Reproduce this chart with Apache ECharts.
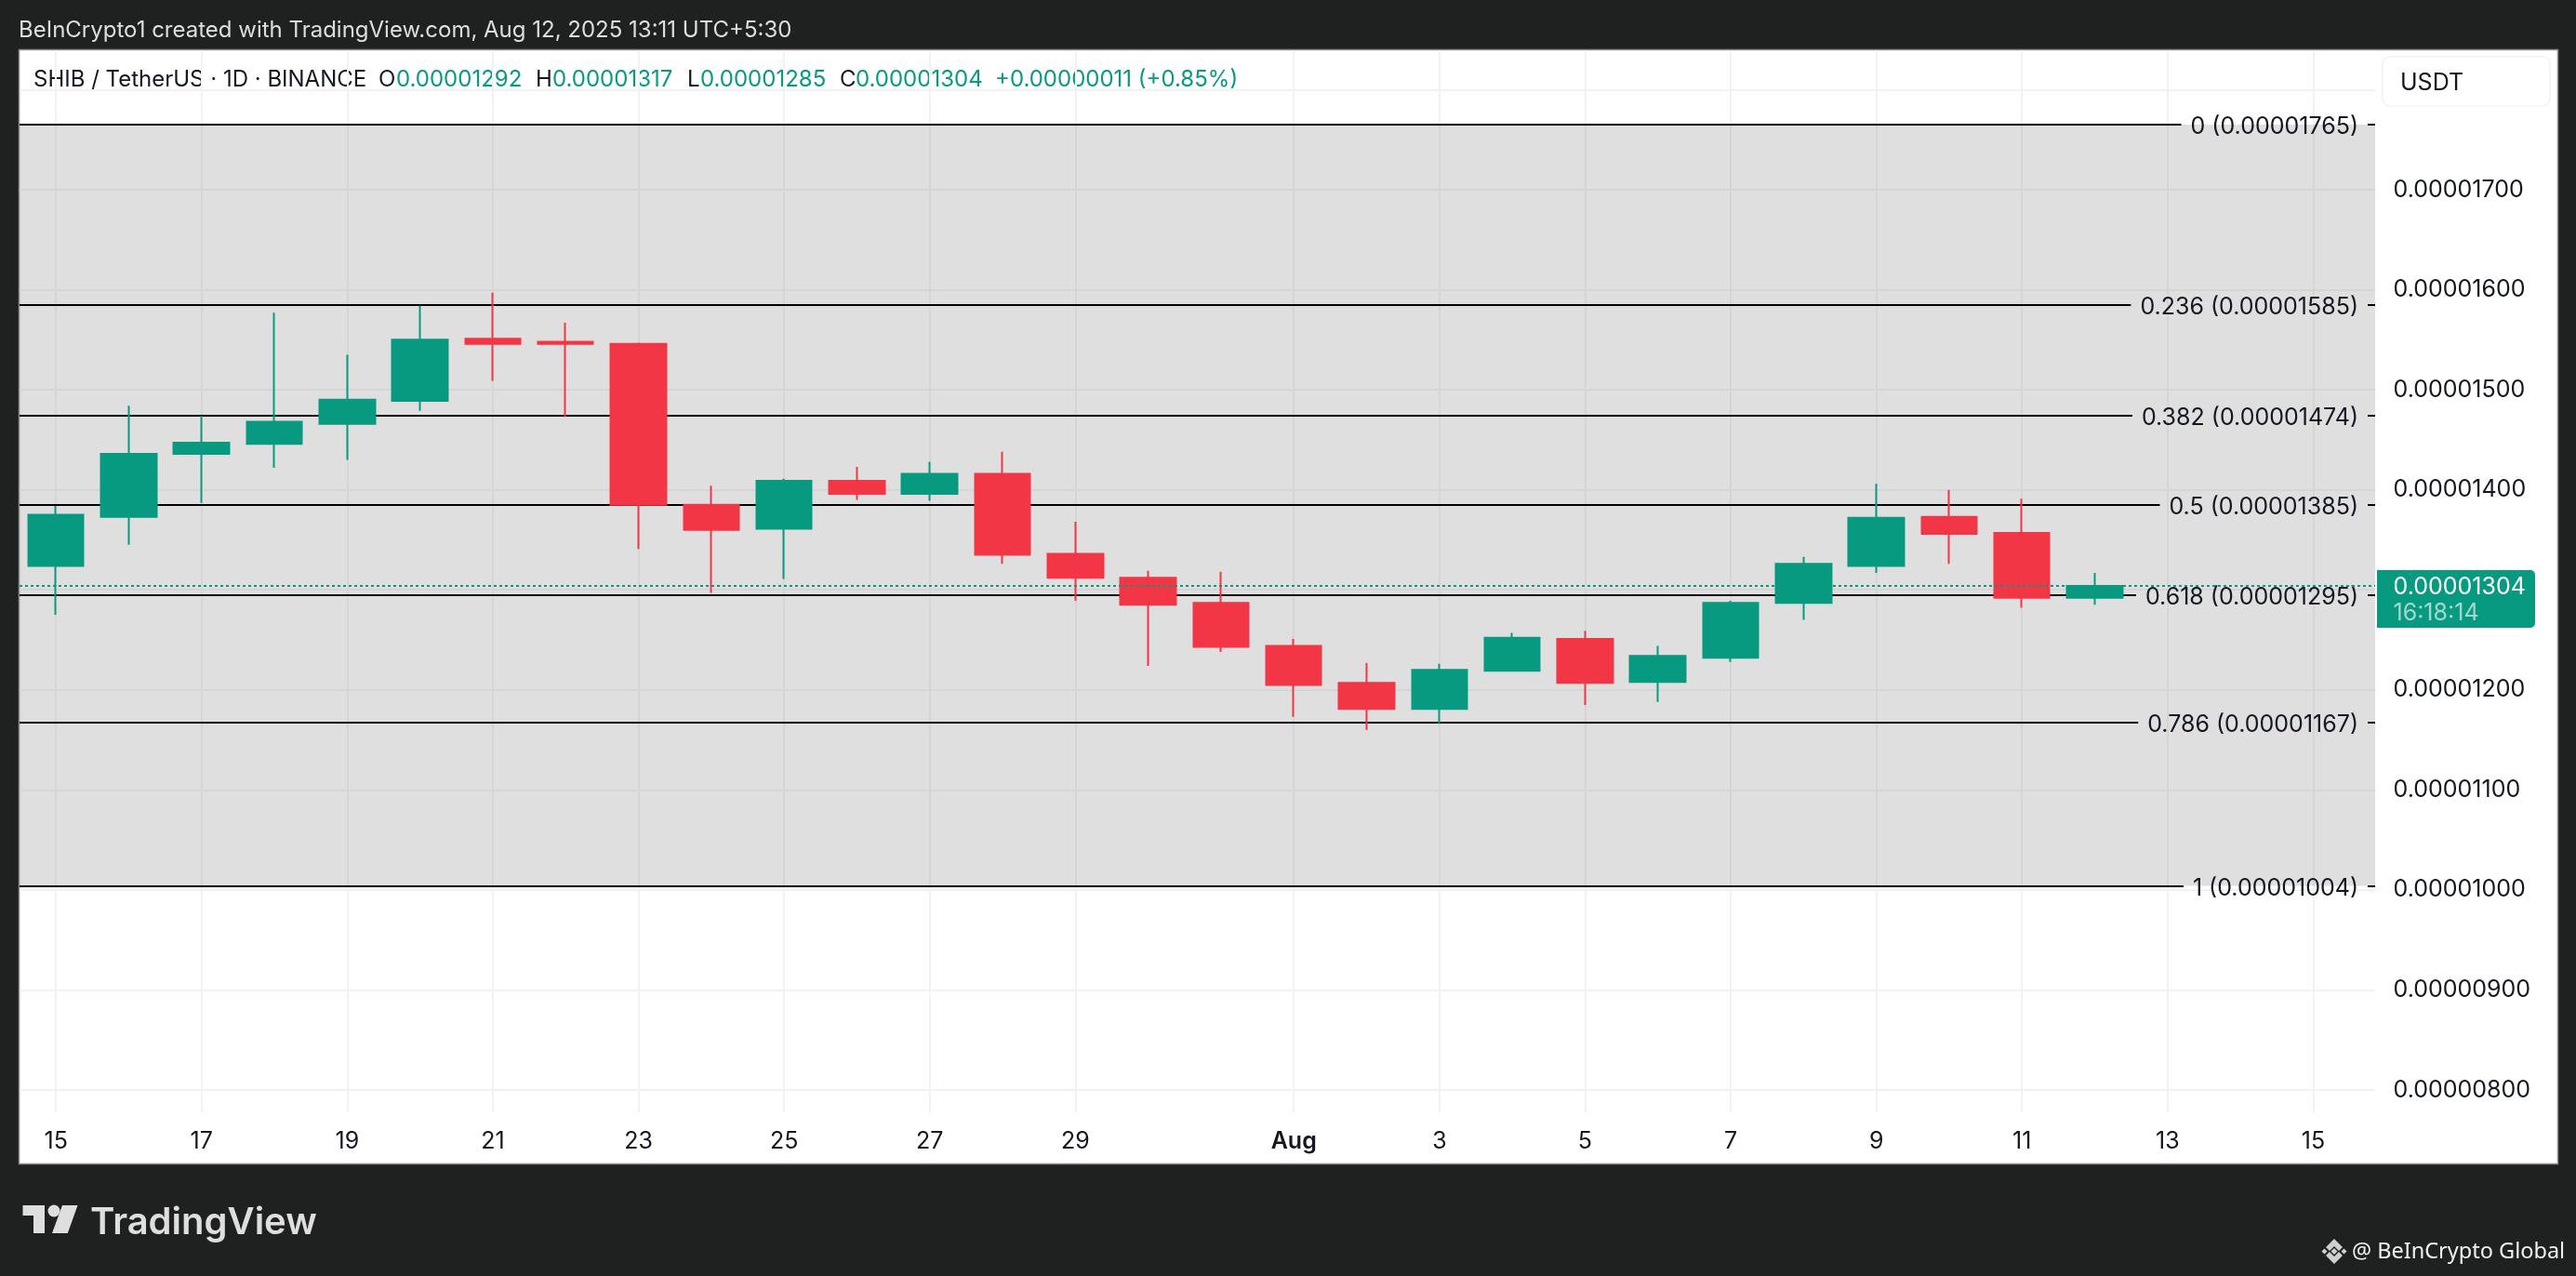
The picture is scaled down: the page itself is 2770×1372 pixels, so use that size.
<!DOCTYPE html>
<html>
<head>
<meta charset="utf-8">
<title>SHIB / TetherUS</title>
<style>
  html, body { margin: 0; padding: 0; background: #1f2120; }
  #chart { width: 2770px; height: 1372px; }
</style>
<script src="https://cdn.jsdelivr.net/npm/echarts@6/dist/echarts.min.js"></script>
</head>
<body>
<div id="chart"></div>
<script>
// prices are in units of 0.00000001, one candle per day from Jul 15 to Aug 12
var opens  = [1324, 1373, 1436, 1446, 1466, 1489, 1551, 1548, 1546, 1385, 1361, 1409, 1396, 1416, 1336, 1312, 1287, 1244, 1207, 1181, 1219, 1251, 1208, 1232, 1287, 1324, 1373, 1357, 1292];
var closes = [1375, 1436, 1447, 1468, 1490, 1550, 1546, 1546, 1385, 1360, 1409, 1396, 1416, 1335, 1312, 1285, 1243, 1205, 1181, 1220, 1252, 1207, 1234, 1287, 1326, 1372, 1356, 1292, 1304];
var lows   = [1275, 1345, 1387, 1422, 1430, 1479, 1509, 1473, 1341, 1297, 1311, 1390, 1389, 1326, 1289, 1224, 1238, 1173, 1160, 1166, 1219, 1185, 1188, 1228, 1270, 1317, 1326, 1282, 1285];
var highs  = [1384, 1484, 1474, 1577, 1535, 1584, 1597, 1567, 1547, 1404, 1411, 1423, 1428, 1438, 1368, 1319, 1318, 1251, 1227, 1226, 1257, 1259, 1244, 1289, 1333, 1406, 1400, 1391, 1317];

var dayTicks  = [0, 2, 4, 6, 8, 10, 12, 14, 17, 19, 21, 23, 25, 27, 29, 31];
var dayLabels = ['15', '17', '19', '21', '23', '25', '27', '29', 'Aug', '3', '5', '7', '9', '11', '13', '15'];

var priceGrid   = [800, 900, 1000, 1100, 1200, 1300, 1400, 1500, 1600, 1700, 1800];
var priceLabels = [800, 900, 1000, 1100, 1200, 1300, 1400, 1500, 1600, 1700];

var fibRatios = ['0', '0.236', '0.382', '0.5', '0.618', '0.786', '1'];
var fibPrices = [1765, 1585, 1474, 1385, 1295, 1167, 1004];

var lastPrice = 1304;
var countdown = '16:18:14';

var UP = '#089981';
var DOWN = '#f23645';
var INK = '#131722';
var FONT = 'Inter';
var LABEL_FONT = '25px ' + FONT;
var PLOT_RIGHT = 2554;

function priceText(v) {
    return (v / 1e8).toFixed(8);
}

var measure = document.createElement('canvas').getContext('2d');
measure.font = LABEL_FONT;

function renderFibBand(params, api) {
    var a = api.coord([-0.5, api.value(0)]);
    var b = api.coord([31.85, api.value(1)]);
    return {
        type: 'rect',
        shape: { x: a[0], y: a[1], width: b[0] - a[0], height: b[1] - a[1] },
        style: { fill: 'rgba(128,128,128,0.25)' }
    };
}

function renderFibLevel(params, api) {
    var p = api.coord([-0.5, api.value(1)]);
    var y = Math.round(p[1]);
    var label = fibRatios[api.value(0)] + ' (' + priceText(api.value(1)) + ')';
    var textRight = 2536;
    var lineEnd = textRight - measure.measureText(label).width - 10;
    var stroke = { stroke: '#000', lineWidth: 2 };
    return {
        type: 'group',
        children: [
            { type: 'line', shape: { x1: p[0], y1: y, x2: lineEnd, y2: y }, style: stroke },
            { type: 'line', shape: { x1: textRight + 10, y1: y, x2: PLOT_RIGHT, y2: y }, style: stroke },
            {
                type: 'text',
                style: {
                    x: textRight, y: y + 2, text: label, fill: INK, font: LABEL_FONT,
                    align: 'right', verticalAlign: 'middle'
                }
            }
        ]
    };
}

function renderLastPrice(params, api) {
    var p = api.coord([-0.5, api.value(0)]);
    var y = Math.round(p[1]);
    return {
        type: 'group',
        children: [
            {
                type: 'line',
                shape: { x1: p[0], y1: y, x2: PLOT_RIGHT, y2: y },
                style: { stroke: UP, lineWidth: 2, lineDash: [3, 3] }
            },
            {
                type: 'rect',
                shape: { x: 2556, y: y - 17, width: 170, height: 62, r: [0, 5, 5, 0] },
                style: { fill: UP }
            },
            {
                type: 'text',
                style: {
                    x: 2573.5, y: y + 1, text: priceText(api.value(0)), fill: '#fff',
                    font: LABEL_FONT, verticalAlign: 'middle'
                }
            },
            {
                type: 'text',
                style: {
                    x: 2573.5, y: y + 29, text: countdown, fill: 'rgba(255,255,255,0.62)',
                    font: LABEL_FONT, verticalAlign: 'middle'
                }
            }
        ]
    };
}

function makeLegendText() {
    var pieces = [
        [36, 'SHIB / TetherUS · 1D · BINANCE', INK],
        [407, 'O', INK], [426, priceText(opens[28] ), UP],
        [576, 'H', INK], [594, priceText(highs[28]), UP],
        [739, 'L', INK], [753, priceText(lows[28]), UP],
        [903, 'C', INK], [920, priceText(closes[28]), UP],
        [1070, '+0.00000011 (+0.85%)', UP]
    ];
    return pieces.map(function (item) {
        return {
            type: 'text', x: item[0], y: 86,
            style: { text: item[1], fill: item[2], font: '24px ' + FONT, verticalAlign: 'middle' }
        };
    });
}

function makeFrame() {
    var grey = '#dedede';
    return [
        { type: 'rect', z: -1, shape: { x: 20.5, y: 53.5, width: 2730, height: 1198 }, style: { fill: '#fff', stroke: '#8a8a8a', lineWidth: 1.5 } },
        { type: 'text', x: 20, y: 33, style: { text: 'BeInCrypto1 created with TradingView.com, Aug 12, 2025 13:11 UTC+5:30', fill: grey, font: '24px ' + FONT, verticalAlign: 'middle' } },
        // USDT button
        { type: 'rect', shape: { x: 2562, y: 61, width: 180, height: 53, r: 8 }, style: { fill: '#fff', stroke: '#f2f2f2', lineWidth: 1.5 } },
        { type: 'text', x: 2581, y: 89, style: { text: 'USDT', fill: INK, font: LABEL_FONT, verticalAlign: 'middle' } },
        // TradingView logo
        { type: 'polygon', shape: { points: [[24.5, 1296], [48, 1296], [48, 1326], [36, 1326], [36, 1307], [24.5, 1307]] }, style: { fill: grey } },
        { type: 'circle', shape: { cx: 58, cy: 1302, r: 6.5 }, style: { fill: grey } },
        { type: 'polygon', shape: { points: [[67, 1296], [83.5, 1296], [72.8, 1326], [56, 1326]] }, style: { fill: grey } },
        { type: 'text', x: 97, y: 1315, style: { text: 'TradingView', fill: grey, font: '600 40px ' + FONT, verticalAlign: 'middle' } },
        // watermark bottom right
        { type: 'polygon', shape: { points: [[2510, 1332], [2519, 1341], [2515, 1345], [2510, 1340], [2505, 1345], [2501, 1341]] }, style: { fill: '#cfcfcf' } },
        { type: 'polygon', shape: { points: [[2510, 1359], [2519, 1350], [2515, 1346], [2510, 1351], [2505, 1346], [2501, 1350]] }, style: { fill: '#cfcfcf' } },
        { type: 'polygon', shape: { points: [[2510, 1342], [2513.5, 1345.5], [2510, 1349], [2506.5, 1345.5]] }, style: { fill: '#cfcfcf' } },
        { type: 'polygon', shape: { points: [[2499.5, 1342.5], [2502.5, 1345.5], [2499.5, 1348.5], [2496.5, 1345.5]] }, style: { fill: '#cfcfcf' } },
        { type: 'polygon', shape: { points: [[2520.5, 1342.5], [2523.5, 1345.5], [2520.5, 1348.5], [2517.5, 1345.5]] }, style: { fill: '#cfcfcf' } },
        { type: 'text', x: 2529, y: 1346, style: { text: '@ BeInCrypto Global', fill: '#f0f0f0', font: '23.5px "Noto Sans"', verticalAlign: 'middle' } }
    ].concat(makeLegendText());
}

var candles = opens.map(function (open, i) {
    return [i, open, closes[i], lows[i], highs[i]];
});

var option = {
    animation: false,
    backgroundColor: '#1f2120',
    textStyle: { fontFamily: FONT },
    graphic: { elements: makeFrame() },
    grid: { left: 21, top: 54, width: 2533, height: 1142 },
    xAxis: {
        type: 'value',
        min: -0.5,
        max: 31.85,
        axisLine: { show: false },
        axisTick: { show: false, customValues: dayTicks },
        splitLine: { show: true, lineStyle: { color: '#f2f2f2', width: 2 } },
        axisLabel: {
            customValues: dayTicks,
            margin: 19,
            fontSize: 25,
            fontFamily: FONT,
            color: INK,
            formatter: function (value) {
                var text = dayLabels[dayTicks.indexOf(value)];
                return text === 'Aug' ? '{month|Aug}' : text;
            },
            rich: { month: { fontSize: 25, fontWeight: 600, fontFamily: FONT, color: INK } }
        }
    },
    yAxis: {
        type: 'value',
        position: 'right',
        min: 777.7,
        max: 1839.46,
        axisLine: { show: false },
        axisTick: { show: false, customValues: priceGrid },
        splitLine: { show: true, lineStyle: { color: '#f2f2f2', width: 2 } },
        axisLabel: {
            customValues: priceLabels,
            margin: 19.5,
            padding: [4, 0, 0, 0],
            fontSize: 25,
            fontFamily: FONT,
            color: INK,
            formatter: priceText
        }
    },
    series: [
        {
            type: 'custom',
            z: 1,
            renderItem: renderFibBand,
            encode: { y: [0, 1] },
            data: [[fibPrices[0], fibPrices[fibPrices.length - 1]]]
        },
        {
            type: 'custom',
            z: 2,
            renderItem: renderFibLevel,
            encode: { x: 0, y: 1 },
            data: fibPrices.map(function (price, i) { return [i, price]; })
        },
        {
            type: 'candlestick',
            z: 3,
            barWidth: 60,
            itemStyle: { color: UP, color0: DOWN, borderColor: UP, borderColor0: DOWN, borderWidth: 2 },
            data: candles
        },
        {
            type: 'custom',
            z: 5,
            renderItem: renderLastPrice,
            encode: { y: 0 },
            data: [[lastPrice]]
        }
    ]
};

document.fonts.load(LABEL_FONT).finally(function () {
    measure.font = LABEL_FONT;
    echarts.init(document.getElementById('chart')).setOption(option);
});
</script>
</body>
</html>
